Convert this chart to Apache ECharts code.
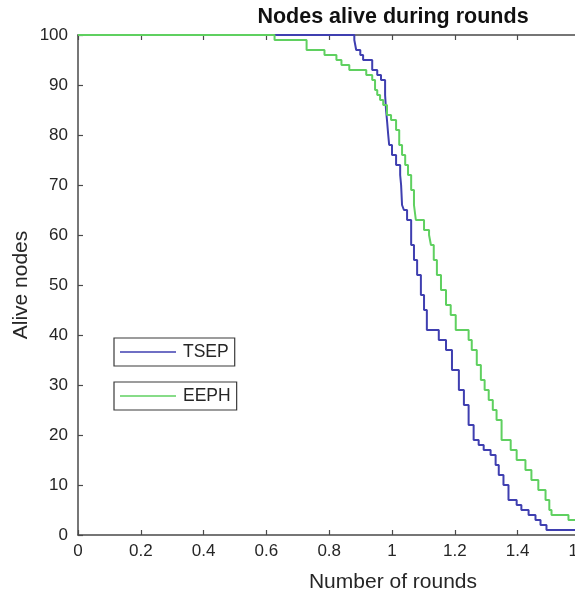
<!DOCTYPE html>
<html>
<head>
<meta charset="utf-8">
<script src="https://cdn.jsdelivr.net/npm/echarts@6/dist/echarts.min.js"></script>
<style>
  html, body { margin: 0; padding: 0; background: #fff; }
  #chart { width: 575px; height: 597px; }
</style>
</head>
<body>
<div id="chart"></div>
<script>
// Number of rounds at which the alive-node count changes, and the count after each change
const roundsTSEP = [0, 0.880, 0.886, 0.899, 0.908, 0.937, 0.953, 0.965, 0.978, 0.981, 0.984, 0.988, 0.991,
  1.000, 1.013, 1.026, 1.029, 1.032, 1.038, 1.048, 1.061, 1.070, 1.080, 1.092, 1.102, 1.111, 1.149,
  1.172, 1.191, 1.213, 1.229, 1.244, 1.260, 1.276, 1.292, 1.314, 1.330, 1.340, 1.355, 1.371, 1.397,
  1.412, 1.435, 1.457, 1.473, 1.492, 1.6];
const aliveTSEP = [100, 99, 97, 96, 95, 93, 92, 91, 88, 85, 83, 80, 78,
  76, 74, 72, 70, 66, 65, 63, 58, 55, 52, 48, 45, 41, 39,
  37, 33, 29, 26, 22, 19, 18, 17, 16, 14, 12, 10, 7, 6,
  5, 4, 3, 2, 1, 1];

const roundsEEPH = [0, 0.626, 0.728, 0.785, 0.823, 0.839, 0.864, 0.918, 0.937, 0.946, 0.953, 0.962, 0.972,
  0.984, 0.997, 1.013, 1.023, 1.032, 1.042, 1.051, 1.061, 1.070, 1.076, 1.102, 1.118, 1.124, 1.133,
  1.143, 1.156, 1.172, 1.187, 1.203, 1.244, 1.254, 1.270, 1.283, 1.295, 1.308, 1.321, 1.333, 1.349,
  1.378, 1.397, 1.425, 1.444, 1.466, 1.489, 1.501, 1.508, 1.562, 1.6];
const aliveEEPH = [100, 99, 97, 96, 95, 94, 93, 92, 91, 89, 88, 87, 86,
  84, 83, 81, 78, 76, 74, 72, 69, 66, 63, 61, 60, 58, 55,
  52, 49, 46, 44, 41, 39, 37, 34, 31, 29, 27, 25, 23, 19,
  17, 15, 13, 11, 9, 7, 5, 4, 3, 3];

const xTicks = { min: 0, max: 2, interval: 0.2 };
const yTicks = { min: 0, max: 100, interval: 10 };

const FONT = '"Liberation Sans", Arial, Helvetica, sans-serif';
const AXIS_COLOR = '#4a4a4a';
const TEXT_COLOR = '#262626';

function zip(xs, ys) { return xs.map((x, i) => [x, ys[i]]); }

const chart = echarts.init(document.getElementById('chart'), null, { renderer: 'canvas' });

const axisCommon = {
  type: 'value',
  splitLine: { show: false },
  axisLine: { show: true, onZero: false, lineStyle: { color: AXIS_COLOR, width: 1.5 } },
  axisTick: { show: true, inside: true, length: 5, lineStyle: { color: AXIS_COLOR, width: 1.2 } }
};

const legendCommon = {
  orient: 'horizontal',
  icon: 'rect',
  itemWidth: 56,
  itemHeight: 1.6,
  itemGap: 0,
  padding: [5, 6, 5, 6],
  borderColor: '#3a3a3a',
  borderWidth: 1.2,
  borderRadius: 0,
  backgroundColor: '#fff',
  selectedMode: false,
  textStyle: { fontFamily: FONT, fontSize: 17.5, color: TEXT_COLOR, padding: [0, 0, 0, 2] }
};

chart.setOption({
  animation: false,
  backgroundColor: '#fff',
  // the axes run on past the right edge of the figure
  grid: { left: 78, right: -131, top: 35, bottom: 62, containLabel: false, outerBoundsMode: 'none' },
  xAxis: [
    Object.assign({}, axisCommon, xTicks, {
      position: 'bottom',
      axisLabel: {
        show: true, margin: 8, fontFamily: FONT, fontSize: 17, color: TEXT_COLOR,
        formatter: v => String(+v.toFixed(1))
      }
    }),
    Object.assign({}, axisCommon, xTicks, {
      position: 'top',
      axisLabel: { show: false }
    })
  ],
  yAxis: Object.assign({}, axisCommon, yTicks, {
    position: 'left',
    axisLabel: { show: true, margin: 10, fontFamily: FONT, fontSize: 17, color: TEXT_COLOR }
  }),
  legend: [
    Object.assign({}, legendCommon, { data: ['TSEP'], left: 114, top: 338 }),
    Object.assign({}, legendCommon, { data: ['EEPH'], left: 114, top: 382 })
  ],
  graphic: [
    {
      type: 'text', x: 393, y: 17,
      style: { text: 'Nodes alive during rounds', font: 'bold 21.5px ' + FONT, fill: '#111',
               align: 'center', verticalAlign: 'middle' }
    },
    {
      type: 'text', x: 393, y: 582,
      style: { text: 'Number of rounds', font: '21px ' + FONT, fill: TEXT_COLOR,
               align: 'center', verticalAlign: 'middle' }
    },
    {
      type: 'text', x: 21, y: 285, rotation: Math.PI / 2,
      style: { text: 'Alive nodes', font: '21px ' + FONT, fill: TEXT_COLOR,
               align: 'center', verticalAlign: 'middle' }
    }
  ],
  series: [
    {
      name: 'TSEP', type: 'line', step: 'end', symbol: 'none',
      xAxisIndex: 0,
      data: zip(roundsTSEP, aliveTSEP),
      lineStyle: { color: '#3f3fb0', width: 2 },
      itemStyle: { color: '#3f3fb0' },
      z: 3
    },
    {
      name: 'EEPH', type: 'line', step: 'end', symbol: 'none',
      xAxisIndex: 0,
      data: zip(roundsEEPH, aliveEEPH),
      lineStyle: { color: '#5fd060', width: 2 },
      itemStyle: { color: '#5fd060' },
      z: 4
    }
  ]
});
</script>
</body>
</html>
